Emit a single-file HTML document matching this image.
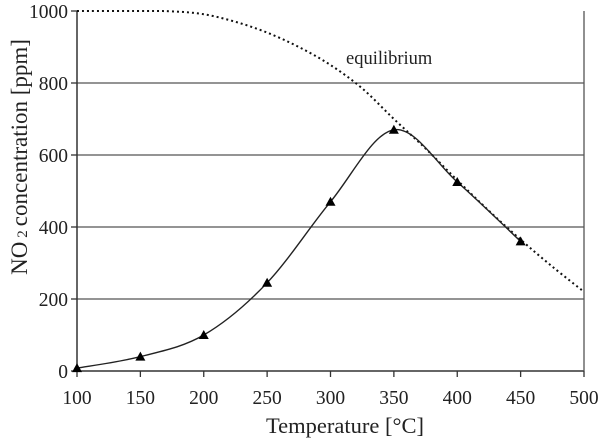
<!DOCTYPE html>
<html><head><meta charset="utf-8"><style>
html,body{margin:0;padding:0;background:#fff;}
svg text{font-family:"Liberation Serif",serif;fill:#222;}
</style></head><body>
<svg id="chart" width="600" height="439" viewBox="0 0 600 439" xmlns="http://www.w3.org/2000/svg">
<g id="grid"></g>
<g id="axes"></g>
<g id="series"></g>
<text x="346" y="64" font-size="18.5">equilibrium</text>
<text x="345" y="433" font-size="22.5" text-anchor="middle">Temperature [°C]</text>
<text transform="translate(27,157) rotate(-90)" font-size="23" text-anchor="middle">NO<tspan font-size="15" dx="4">2</tspan><tspan dx="4">concentration [ppm]</tspan></text>
</svg>
<script>
const xTicks=[100,150,200,250,300,350,400,450,500];
const yTicks=[0,200,400,600,800,1000];
const measT=[100,150,200,250,300,350,400,450];
const measV=[8,40,100,245,470,670,525,360];
const eqT=[100,150,175,200,225,250,275,300,325,350,375,400,425,450,475,500];
const eqV=[1000,1000,999,991,970,940,900,850,785,700,618,530,445,365,290,220];
const X=t=>77+(t-100)*(584-77)/400;
const Y=v=>371-v*0.36;
const NS="http://www.w3.org/2000/svg";
function mk(tag,attrs,parent){const e=document.createElementNS(NS,tag);for(const k in attrs)e.setAttribute(k,attrs[k]);parent.appendChild(e);return e;}
const grid=document.getElementById('grid'),axes=document.getElementById('axes'),series=document.getElementById('series');
yTicks.forEach(v=>{
 if(v>0&&v<1000){const l=mk('line',{x1:X(100),x2:X(500),y1:Y(v),y2:Y(v),stroke:'#555','stroke-width':1.3},grid);
 
 }
 const t=mk('line',{x1:X(100)-6,x2:X(100),y1:Y(v),y2:Y(v),stroke:'#333','stroke-width':1.3},axes);
 
 
 const tx=mk('text',{x:X(100)-9,y:Y(v)+7,'font-size':19.5,'text-anchor':'end'},axes);tx.textContent=v;
 
 
});
xTicks.forEach(t=>{
 const l=mk('line',{x1:X(t),x2:X(t),y1:Y(0),y2:Y(0)+6,stroke:'#333','stroke-width':1.3},axes);
 
 
 const tx=mk('text',{x:X(t),y:Y(0)+33,'font-size':19.5,'text-anchor':'middle'},axes);tx.textContent=t;
 
 
});
const ya=mk('line',{x1:X(100),x2:X(100),y1:Y(1000),y2:Y(0),stroke:'#333','stroke-width':1.5},axes);


const xa=mk('line',{x1:X(100),x2:X(500),y1:Y(0),y2:Y(0),stroke:'#333','stroke-width':1.5},axes);


const rb=mk('line',{x1:X(500),x2:X(500),y1:Y(1000),y2:Y(0),stroke:'#555','stroke-width':1.3},axes);


function smooth(ts,vs){const p=ts.map((t,i)=>[X(t),Y(vs[i])]);let d='M'+p[0][0]+','+p[0][1];
 for(let i=0;i<p.length-1;i++){const p0=p[i-1]||p[i],p1=p[i],p2=p[i+1],p3=p[i+2]||p2;
 const c1=[p1[0]+(p2[0]-p0[0])/6,p1[1]+(p2[1]-p0[1])/6],c2=[p2[0]-(p3[0]-p1[0])/6,p2[1]-(p3[1]-p1[1])/6];
 d+=` C${c1[0]},${c1[1]} ${c2[0]},${c2[1]} ${p2[0]},${p2[1]}`;}return d;}
const eq=mk('path',{d:smooth(eqT,eqV),fill:'none',stroke:'#111','stroke-width':2,'stroke-dasharray':'2 3'},series);


const ms=mk('path',{d:smooth(measT,measV),fill:'none',stroke:'#222','stroke-width':1.4},series);


measT.forEach((t,i)=>{const x=X(t),y=Y(measV[i]);
 const m=mk('polygon',{points:`${x},${y-5} ${x-5},${y+4} ${x+5},${y+4}`,fill:'#000'},series);
 
 });
</script>
</body></html>
